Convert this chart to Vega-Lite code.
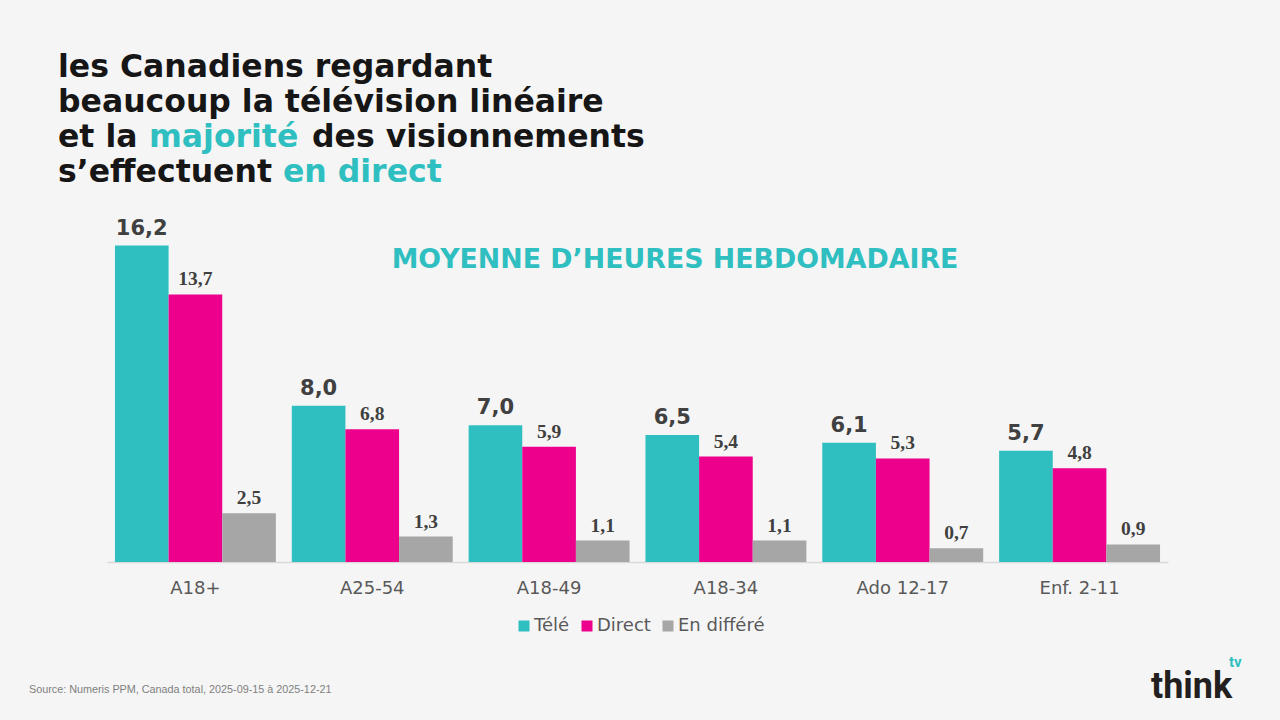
{
  "$schema": "https://vega.github.io/schema/vega-lite/v6.json",
  "width": 1061,
  "height": 332,
  "autosize": "none",
  "padding": {"left": 107, "top": 230, "right": 112, "bottom": 158},
  "background": "#f5f5f5",
  "config": {
    "view": {"stroke": null},
    "locale": {"number": {"decimal": ",", "thousands": " ", "grouping": [3], "currency": ["", " $"]}}
  },
  "data": {"values": [
    {"group": "A18+", "series": "Télé", "value": 16.2},
    {"group": "A18+", "series": "Direct", "value": 13.7},
    {"group": "A18+", "series": "En différé", "value": 2.5},
    {"group": "A25-54", "series": "Télé", "value": 8.0},
    {"group": "A25-54", "series": "Direct", "value": 6.8},
    {"group": "A25-54", "series": "En différé", "value": 1.3},
    {"group": "A18-49", "series": "Télé", "value": 7.0},
    {"group": "A18-49", "series": "Direct", "value": 5.9},
    {"group": "A18-49", "series": "En différé", "value": 1.1},
    {"group": "A18-34", "series": "Télé", "value": 6.5},
    {"group": "A18-34", "series": "Direct", "value": 5.4},
    {"group": "A18-34", "series": "En différé", "value": 1.1},
    {"group": "Ado 12-17", "series": "Télé", "value": 6.1},
    {"group": "Ado 12-17", "series": "Direct", "value": 5.3},
    {"group": "Ado 12-17", "series": "En différé", "value": 0.7},
    {"group": "Enf. 2-11", "series": "Télé", "value": 5.7},
    {"group": "Enf. 2-11", "series": "Direct", "value": 4.8},
    {"group": "Enf. 2-11", "series": "En différé", "value": 0.9}
  ]},
  "encoding": {
    "x": {
      "field": "group", "type": "nominal",
      "sort": ["A18+", "A25-54", "A18-49", "A18-34", "Ado 12-17", "Enf. 2-11"],
      "scale": {"paddingInner": 0.09, "paddingOuter": 0.045},
      "axis": {
        "title": null, "ticks": false, "labelAngle": 0,
        "domainColor": "#d9d9d9", "domainWidth": 1.5,
        "labelFont": "DejaVu Sans", "labelFontSize": 18, "labelColor": "#595959",
        "labelPadding": 17
      }
    },
    "xOffset": {
      "field": "series", "type": "nominal",
      "sort": ["Télé", "Direct", "En différé"],
      "scale": {"paddingInner": 0, "paddingOuter": 0}
    },
    "y": {
      "field": "value", "type": "quantitative",
      "scale": {"domain": [0, 17], "nice": false, "zero": true},
      "axis": null
    }
  },
  "layer": [
    {
      "mark": {"type": "bar"},
      "encoding": {
        "color": {
          "field": "series", "type": "nominal",
          "scale": {"domain": ["Télé", "Direct", "En différé"], "range": ["#30bfc1", "#ec008c", "#a6a6a6"]},
          "legend": {
            "title": null, "orient": "none", "direction": "horizontal",
            "legendX": 408, "legendY": 387,
            "symbolType": "square", "symbolSize": 121, "symbolStrokeWidth": 0, "symbolOpacity": 1,
            "labelFont": "DejaVu Sans", "labelFontSize": 18, "labelColor": "#595959",
            "labelOffset": 1, "columnPadding": 8, "padding": 0
          }
        }
      }
    },
    {
      "transform": [{"filter": "datum.series === 'Télé'"}],
      "mark": {"type": "text", "font": "DejaVu Sans", "fontWeight": "bold", "fontSize": 21, "color": "#404040", "baseline": "alphabetic", "dy": -11},
      "encoding": {"text": {"field": "value", "type": "quantitative", "format": ".1f"}}
    },
    {
      "transform": [{"filter": "datum.series !== 'Télé'"}],
      "mark": {"type": "text", "font": "Liberation Serif", "fontWeight": "bold", "fontSize": 19.5, "color": "#404040", "baseline": "alphabetic", "dy": -9},
      "encoding": {"text": {"field": "value", "type": "quantitative", "format": ".1f"}}
    },
    {
      "data": {"values": [{}]},
      "mark": {"type": "text", "font": "DejaVu Sans", "fontWeight": "bold", "fontSize": 31.5, "color": "#161616", "align": "left", "baseline": "alphabetic"},
      "encoding": {"x": {"value": -49}, "y": {"value": -153}, "text": {"value": "les Canadiens regardant"}, "xOffset": null}
    },
    {
      "data": {"values": [{}]},
      "mark": {"type": "text", "font": "DejaVu Sans", "fontWeight": "bold", "fontSize": 31.5, "color": "#161616", "align": "left", "baseline": "alphabetic"},
      "encoding": {"x": {"value": -49}, "y": {"value": -118}, "text": {"value": "beaucoup la télévision linéaire"}, "xOffset": null}
    },
    {
      "data": {"values": [{}]},
      "mark": {"type": "text", "font": "DejaVu Sans", "fontWeight": "bold", "fontSize": 31.5, "color": "#161616", "align": "left", "baseline": "alphabetic"},
      "encoding": {"x": {"value": -49}, "y": {"value": -83}, "text": {"value": "et la"}, "xOffset": null}
    },
    {
      "data": {"values": [{}]},
      "mark": {"type": "text", "font": "DejaVu Sans", "fontWeight": "bold", "fontSize": 31.5, "color": "#30bfc1", "align": "left", "baseline": "alphabetic"},
      "encoding": {"x": {"value": 42}, "y": {"value": -83}, "text": {"value": "majorité"}, "xOffset": null}
    },
    {
      "data": {"values": [{}]},
      "mark": {"type": "text", "font": "DejaVu Sans", "fontWeight": "bold", "fontSize": 31.5, "color": "#161616", "align": "left", "baseline": "alphabetic"},
      "encoding": {"x": {"value": 205}, "y": {"value": -83}, "text": {"value": "des visionnements"}, "xOffset": null}
    },
    {
      "data": {"values": [{}]},
      "mark": {"type": "text", "font": "DejaVu Sans", "fontWeight": "bold", "fontSize": 31.5, "color": "#161616", "align": "left", "baseline": "alphabetic"},
      "encoding": {"x": {"value": -49}, "y": {"value": -48}, "text": {"value": "s’effectuent"}, "xOffset": null}
    },
    {
      "data": {"values": [{}]},
      "mark": {"type": "text", "font": "DejaVu Sans", "fontWeight": "bold", "fontSize": 31.5, "color": "#30bfc1", "align": "left", "baseline": "alphabetic"},
      "encoding": {"x": {"value": 176}, "y": {"value": -48}, "text": {"value": "en direct"}, "xOffset": null}
    },
    {
      "data": {"values": [{}]},
      "mark": {"type": "text", "font": "DejaVu Sans", "fontWeight": "bold", "fontSize": 26.8, "color": "#30bfc1", "align": "center", "baseline": "alphabetic"},
      "encoding": {"x": {"value": 568}, "y": {"value": 38}, "text": {"value": "MOYENNE D’HEURES HEBDOMADAIRE"}, "xOffset": null}
    },
    {
      "data": {"values": [{}]},
      "mark": {"type": "text", "font": "Liberation Sans", "fontSize": 10.8, "color": "#7f7f7f", "align": "left", "baseline": "alphabetic"},
      "encoding": {"x": {"value": -78}, "y": {"value": 463}, "text": {"value": "Source: Numeris PPM, Canada total, 2025-09-15 à 2025-12-21"}, "xOffset": null}
    },
    {
      "data": {"values": [{}]},
      "mark": {"type": "text", "font": "Roboto", "fontWeight": "bold", "fontSize": 36, "color": "#231f20", "align": "left", "baseline": "alphabetic"},
      "encoding": {"x": {"value": 1044}, "y": {"value": 468}, "text": {"value": "think"}, "xOffset": null}
    },
    {
      "data": {"values": [{}]},
      "mark": {"type": "text", "font": "Roboto", "fontWeight": "bold", "fontSize": 15, "color": "#30bfc1", "align": "left", "baseline": "alphabetic"},
      "encoding": {"x": {"value": 1122}, "y": {"value": 437}, "text": {"value": "tv"}, "xOffset": null}
    }
  ]
}
